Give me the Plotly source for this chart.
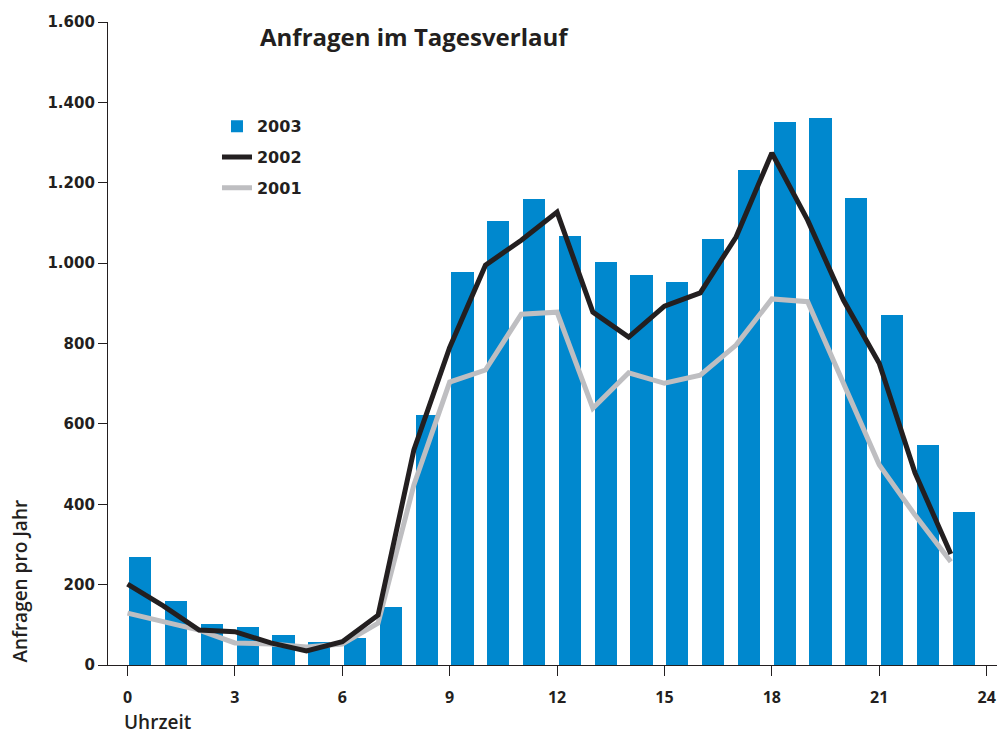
import plotly.graph_objects as go

hours = list(range(24))
y2003 = [268, 159, 102, 95, 75, 57, 67, 144, 622, 978, 1105, 1160, 1067, 1003, 970, 953,
         1060, 1232, 1351, 1361, 1162, 871, 547, 381]
y2002 = [201, 147, 87, 83, 55, 35, 58, 124, 535, 790, 995, 1057, 1127, 878, 816, 893,
         926, 1065, 1274, 1107, 908, 751, 478, 276]
y2001 = [129, 107, 87, 55, 52, 45, 52, 104, 448, 704, 734, 873, 878, 639, 727, 701,
         721, 796, 911, 904, 701, 498, 373, 257]
xticks = [0, 3, 6, 9, 12, 15, 18, 21, 24]
yticks = [0, 200, 400, 600, 800, 1000, 1200, 1400, 1600]
yticklabels = ["0", "200", "400", "600", "800", "1.000", "1.200", "1.400", "1.600"]

BLUE = "#0088CE"
BLACK = "#231F20"
GRAY = "#BEBEC1"
YTICKFONT = dict(family="DejaVu Sans", size=15, color=BLACK, weight="bold")
XTICKFONT = dict(family="Open Sans", size=16, color=BLACK, weight="bold")
LABELFONT = dict(family="Open Sans", size=19, color=BLACK, weight=600)

fig = go.Figure()
fig.add_trace(go.Bar(x=hours, y=y2003, name="2003", marker_color=BLUE, marker_line_width=0,
                     offset=0.05, width=0.62, legendgroup="a", legendrank=1))
fig.add_trace(go.Scatter(x=hours, y=y2001, name="2001", mode="lines",
                         line=dict(color=GRAY, width=5), legendgroup="c", legendrank=3))
fig.add_trace(go.Scatter(x=hours, y=y2002, name="2002", mode="lines",
                         line=dict(color=BLACK, width=5), legendgroup="b", legendrank=2))

fig.update_layout(
    width=997, height=735,
    margin=dict(l=108, r=0, t=22, b=70),
    plot_bgcolor="white", paper_bgcolor="white",
    font=dict(family="DejaVu Sans", color=BLACK, size=15),
    showlegend=True,
    legend=dict(x=0.1226, y=0.8643, xanchor="left", yanchor="top",
                font=dict(family="DejaVu Sans", size=16, color=BLACK, weight="bold"),
                traceorder="grouped", tracegroupgap=7, itemwidth=30,
                bgcolor="rgba(0,0,0,0)"),
    xaxis=dict(range=[-0.545, 24.29], tickmode="array", tickvals=xticks,
               ticktext=[str(t) for t in xticks],
               showline=True, linecolor=BLACK, linewidth=1.2, ticks="outside",
               ticklen=10, tickcolor=BLACK, tickwidth=1.2, showgrid=False, zeroline=False,
               ticklabelstandoff=8, ticklabeloverflow="allow", tickfont=XTICKFONT),
    yaxis=dict(range=[0, 1600], tickmode="array", tickvals=yticks, ticktext=yticklabels,
               showline=True, linecolor=BLACK, linewidth=1.2, ticks="outside",
               ticklen=9, tickcolor=BLACK, tickwidth=1.2, showgrid=False, zeroline=False,
               tickfont=YTICKFONT),
    bargap=0,
)

fig.add_annotation(text="Anfragen im Tagesverlauf", xref="paper", yref="paper",
                   x=0.1687, y=0.9767, xanchor="left", yanchor="middle", showarrow=False,
                   font=dict(family="Open Sans", size=24, color=BLACK, weight="bold"))
fig.add_annotation(text="Anfragen pro Jahr", xref="paper", yref="paper",
                   x=-0.1, y=0.0, xanchor="center", yanchor="bottom", textangle=-90,
                   showarrow=False, font=LABELFONT)
fig.add_annotation(text="Uhrzeit", xref="paper", yref="paper",
                   x=0.0157, y=-0.089, xanchor="left", yanchor="middle", showarrow=False,
                   font=LABELFONT)

fig.write_html("out.html", config={"displayModeBar": False},
               post_script="document.body.style.margin='0px';")
